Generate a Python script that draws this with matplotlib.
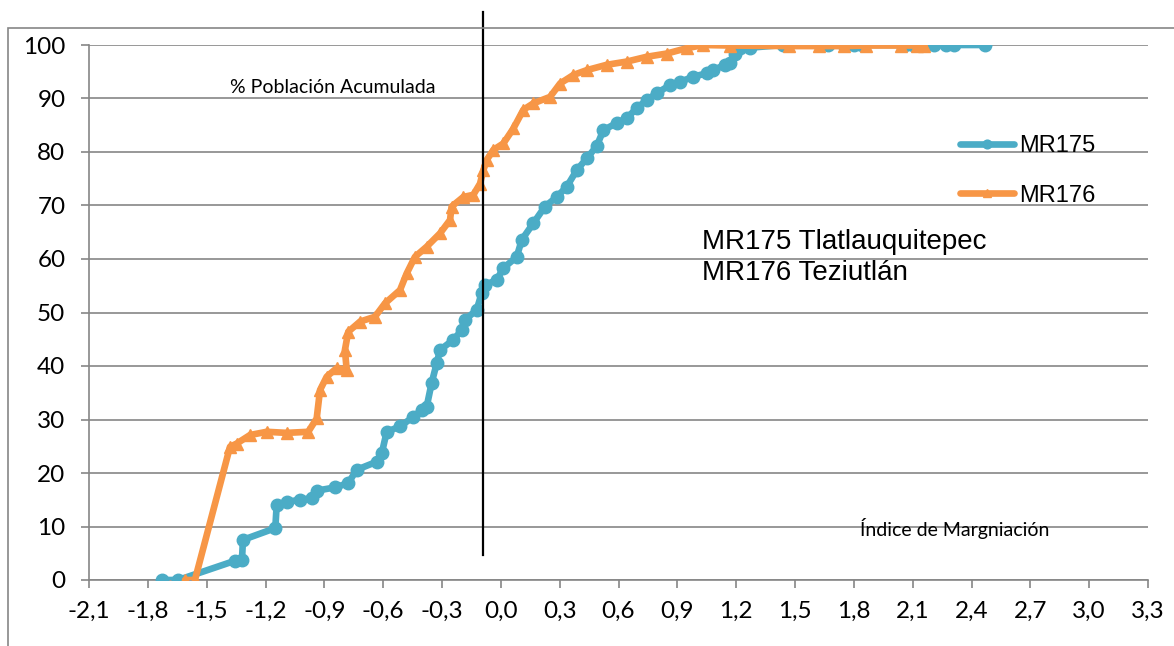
import matplotlib

matplotlib.use("Agg")
import matplotlib.pyplot as plt
from matplotlib.patches import Rectangle

# MR175 Tlatlauquitepec: indice de marginacion vs % poblacion acumulada
x_mr175 = [
    -1.73, -1.645, -1.355, -1.32, -1.315, -1.15, -1.143, -1.092, -1.024, -0.964,
    -0.939, -0.846, -0.778, -0.735, -0.633, -0.607, -0.582, -0.514, -0.446, -0.404,
    -0.378, -0.353, -0.327, -0.31, -0.242, -0.199, -0.183, -0.123, -0.098, -0.081,
    -0.021, 0.013, 0.081, 0.107, 0.166, 0.225, 0.285, 0.336, 0.387, 0.438,
    0.489, 0.523, 0.591, 0.642, 0.693, 0.744, 0.795, 0.863, 0.914, 0.982,
    1.05, 1.084, 1.143, 1.169, 1.194, 1.22, 1.27, 1.44, 1.67, 1.75,
    1.80, 1.84, 2.06, 2.10, 2.21, 2.27, 2.31, 2.47,
]
y_mr175 = [
    0, 0, 3.6, 3.7, 7.5, 9.7, 14.0, 14.6, 15.0, 15.3,
    16.7, 17.3, 18.1, 20.6, 22.1, 23.7, 27.7, 28.7, 30.5, 31.8,
    32.4, 36.8, 40.5, 43.0, 44.9, 46.7, 48.6, 50.5, 53.6, 55.1,
    56.1, 58.3, 60.4, 63.6, 66.7, 69.8, 71.6, 73.5, 76.6, 78.8,
    81.1, 84.1, 85.4, 86.3, 88.2, 89.7, 91.0, 92.5, 93.1, 94.1,
    94.7, 95.3, 96.3, 96.6, 98.4, 99.4, 99.5, 100, 100, 100,
    100, 100, 100, 100, 100, 100, 100, 100,
]

# MR176 Teziutlan
x_mr176 = [
    -1.61, -1.56, -1.381, -1.347, -1.279, -1.194, -1.092, -0.982, -0.939, -0.922,
    -0.888, -0.837, -0.786, -0.795, -0.778, -0.718, -0.642, -0.591, -0.514, -0.48,
    -0.438, -0.378, -0.31, -0.259, -0.251, -0.191, -0.14, -0.106, -0.089, -0.072,
    -0.038, 0.013, 0.064, 0.115, 0.166, 0.251, 0.302, 0.37, 0.438, 0.54,
    0.642, 0.744, 0.846, 0.948, 1.033, 1.169, 1.47, 1.62, 1.75, 1.86,
    2.04, 2.12, 2.16,
]
y_mr176 = [
    0, 0, 24.9, 25.5, 27.1, 27.7, 27.5, 27.7, 30.2, 35.5,
    38.0, 39.6, 39.3, 43.0, 46.4, 48.3, 49.2, 51.7, 54.2, 57.3,
    60.4, 62.3, 64.8, 67.3, 69.8, 71.6, 72.0, 74.1, 76.6, 78.5,
    80.4, 81.6, 84.4, 87.9, 89.1, 90.3, 92.8, 94.4, 95.3, 96.3,
    96.9, 97.8, 98.4, 99.4, 100, 99.9, 99.8, 99.8, 99.8, 99.9,
    99.9, 99.9, 99.9,
]

x_ticks = [-2.1, -1.8, -1.5, -1.2, -0.9, -0.6, -0.3, 0.0, 0.3, 0.6, 0.9,
           1.2, 1.5, 1.8, 2.1, 2.4, 2.7, 3.0, 3.3]
x_tick_labels = [f"{v:.1f}".replace(".", ",") for v in x_ticks]
y_ticks = [0, 10, 20, 30, 40, 50, 60, 70, 80, 90, 100]
reference_x = -0.09

BLUE = "#4BACC6"
ORANGE = "#F79646"
GRID = "#868686"

fig = plt.figure(figsize=(11.74, 6.46), dpi=100)
ax = fig.add_axes([89 / 1174, 66 / 646, 1059 / 1174, 535 / 646])

ax.plot(x_mr175, y_mr175, color=BLUE, lw=4.8, marker="o", ms=9, label="MR175",
        solid_joinstyle="round", solid_capstyle="round", zorder=3)
ax.plot(x_mr176, y_mr176, color=ORANGE, lw=4.8, marker="^", ms=9, label="MR176",
        solid_joinstyle="round", solid_capstyle="round", zorder=4)

ax.axvline(reference_x, ymin=0.047, ymax=1.062, color="black", lw=1.6, clip_on=False, zorder=5)

ax.set_xlim(-2.1, 3.3)
ax.set_ylim(0, 100)
ax.set_xticks(x_ticks)
ax.set_xticklabels(x_tick_labels)
ax.set_yticks(y_ticks)
ax.yaxis.grid(True, color=GRID, lw=1.2)
ax.set_axisbelow(True)
for side in ("top", "right"):
    ax.spines[side].set_visible(False)
for side in ("left", "bottom"):
    ax.spines[side].set_color(GRID)
    ax.spines[side].set_linewidth(1.2)
ax.tick_params(axis="both", colors=GRID, length=6, width=1.2, labelcolor="black",
               labelsize=17.5)
ax.tick_params(axis="y", pad=11)
ax.tick_params(axis="x", pad=9)
for lab in ax.get_xticklabels() + ax.get_yticklabels():
    lab.set_family("Lato")

ax.text(-0.856, 92.0, "% Población Acumulada", family="Lato", fontsize=14,
        ha="center", va="center")
ax.text(2.316, 9.7, "Índice de Margniación", family="Lato", fontsize=14,
        ha="center", va="center")
ax.text(1.026, 63.2, "MR175 Tlatlauquitepec", family="Liberation Sans", fontsize=20,
        ha="left", va="center")
ax.text(1.026, 57.4, "MR176 Teziutlán", family="Liberation Sans", fontsize=20,
        ha="left", va="center")

ax.legend(loc="center left", bbox_to_anchor=(960 / 1174, 475 / 646),
          bbox_transform=fig.transFigure, frameon=False, borderpad=0,
          borderaxespad=0, handlelength=2.3, handletextpad=0.2, labelspacing=1.15,
          markerscale=0.7, prop={"family": "Liberation Sans", "size": 17})

fig.add_artist(Rectangle((8 / 1174, -0.1), 1.2, 618 / 646 + 0.1,
                         transform=fig.transFigure, fill=False,
                         edgecolor=GRID, lw=1.2))

fig.savefig("out.png", dpi=100)
